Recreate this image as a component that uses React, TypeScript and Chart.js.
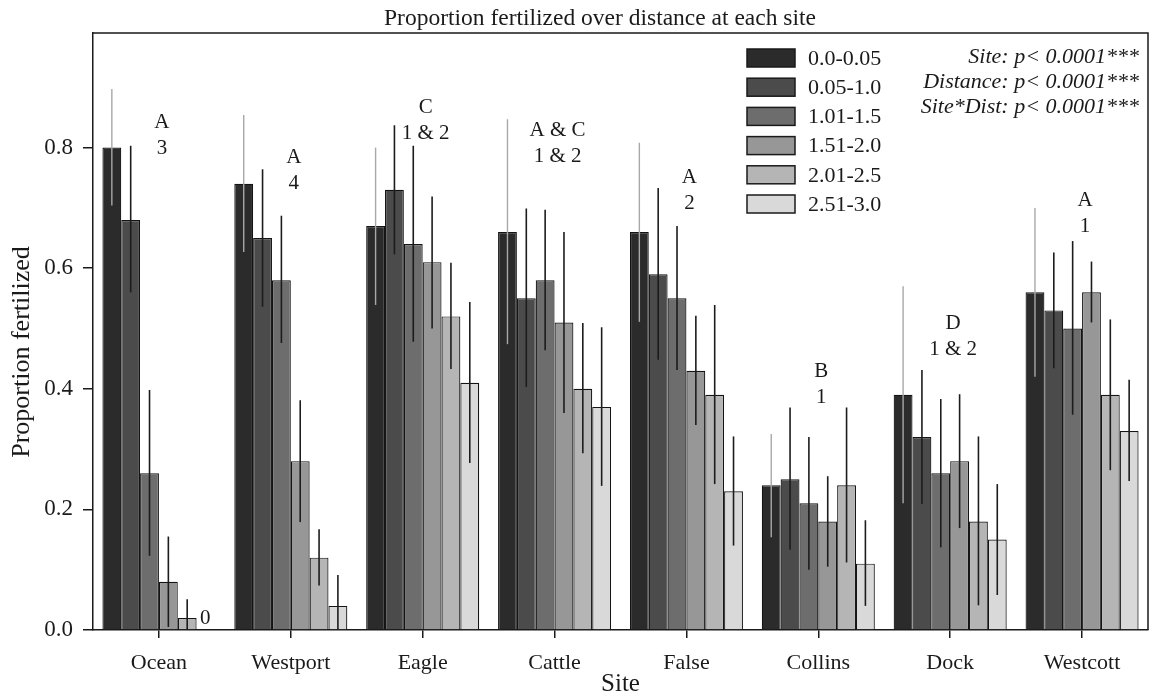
import React, { useEffect, useRef } from "react";
import { Chart, registerables } from "chart.js";

Chart.register(...registerables);

// ---- data ----
const sites = ["Ocean", "Westport", "Eagle", "Cattle", "False", "Collins", "Dock", "Westcott"];
const distances = ["0.0-0.05", "0.05-1.0", "1.01-1.5", "1.51-2.0", "2.01-2.5", "2.51-3.0"];

const dist1 = [0.80, 0.74, 0.67, 0.66, 0.66, 0.24, 0.39, 0.56];
const dist2 = [0.68, 0.65, 0.73, 0.55, 0.59, 0.25, 0.32, 0.53];
const dist3 = [0.26, 0.58, 0.64, 0.58, 0.55, 0.21, 0.26, 0.50];
const dist4 = [0.08, 0.28, 0.61, 0.51, 0.43, 0.18, 0.28, 0.56];
const dist5 = [0.02, 0.12, 0.52, 0.40, 0.39, 0.24, 0.18, 0.39];
const dist6 = [0.0, 0.04, 0.41, 0.37, 0.23, 0.11, 0.15, 0.33];

const hi1 = [0.897, 0.854, 0.80, 0.847, 0.808, 0.325, 0.57, 0.70];
const lo1 = [0.704, 0.627, 0.539, 0.474, 0.511, 0.154, 0.21, 0.42];
const hi2 = [0.803, 0.764, 0.837, 0.699, 0.733, 0.369, 0.431, 0.626];
const lo2 = [0.56, 0.536, 0.623, 0.403, 0.448, 0.133, 0.209, 0.434];
const hi3 = [0.398, 0.687, 0.803, 0.697, 0.67, 0.32, 0.383, 0.645];
const lo3 = [0.123, 0.476, 0.478, 0.464, 0.431, 0.10, 0.137, 0.357];
const hi4 = [0.155, 0.381, 0.719, 0.66, 0.521, 0.255, 0.391, 0.611];
const lo4 = [0.005, 0.179, 0.50, 0.36, 0.34, 0.105, 0.169, 0.51];
const hi5 = [0.051, 0.167, 0.609, 0.509, 0.539, 0.369, 0.321, 0.515];
const lo5 = [0.0, 0.074, 0.433, 0.293, 0.242, 0.112, 0.041, 0.265];
const hi6 = [null, 0.091, 0.544, 0.502, 0.321, 0.182, 0.242, 0.415];
const lo6 = [null, 0.0, 0.277, 0.239, 0.14, 0.04, 0.058, 0.247];

const groupLetters = ["A", "A", "C", "A & C", "A", "B", "D", "A"];
const groupNumbers = ["3", "4", "1 & 2", "1 & 2", "2", "1", "1 & 2", "1"];
const labelLevels = [0.842, 0.784, 0.866, 0.829, 0.75, 0.428, 0.509, 0.713];

const yTicks = [0.0, 0.2, 0.4, 0.6, 0.8];
const statLines = ["Site: p< 0.0001***", "Distance: p< 0.0001***", "Site*Dist: p< 0.0001***"];

const titleText = "Proportion fertilized over distance at each site";
const yTitle = "Proportion fertilized";
const xTitle = "Site";

// ---- styling ----
const seriesValues = [dist1, dist2, dist3, dist4, dist5, dist6];
const seriesHi = [hi1, hi2, hi3, hi4, hi5, hi6];
const seriesLo = [lo1, lo2, lo3, lo4, lo5, lo6];
const colors = ["#2b2b2b", "#4b4b4b", "#6d6d6d", "#979797", "#b5b5b5", "#d9d9d9"];
const INK = "#1a1a1a";
const SERIF = "'Liberation Serif', 'Times New Roman', serif";

const errorBarsPlugin = {
  id: "errorBars",
  afterDatasetsDraw(chart: any) {
    const { ctx } = chart;
    const y = chart.scales.y;
    ctx.save();
    seriesHi.forEach((his, i) => {
      const meta = chart.getDatasetMeta(i);
      meta.data.forEach((bar: any, j: number) => {
        const h = his[j];
        const l = seriesLo[i][j];
        if (h == null || l == null) return;
        ctx.strokeStyle = i === 0 ? "#a8a8a8" : "#1c1c1c";
        ctx.lineWidth = i === 0 ? 1.4 : 1.6;
        ctx.beginPath();
        ctx.moveTo(bar.x, y.getPixelForValue(h));
        ctx.lineTo(bar.x, y.getPixelForValue(l));
        ctx.stroke();
      });
    });
    ctx.restore();
  },
};

const textPlugin = {
  id: "texts",
  afterDraw(chart: any) {
    const { ctx, chartArea } = chart;
    const x = chart.scales.x;
    const y = chart.scales.y;
    ctx.save();
    // frame (top + right)
    ctx.strokeStyle = INK;
    ctx.lineWidth = 1.5;
    ctx.beginPath();
    ctx.moveTo(chartArea.left, chartArea.top);
    ctx.lineTo(chartArea.right, chartArea.top);
    ctx.lineTo(chartArea.right, chartArea.bottom);
    ctx.stroke();

    ctx.fillStyle = INK;
    // title
    ctx.font = `23.5px ${SERIF}`;
    ctx.textAlign = "center";
    ctx.textBaseline = "alphabetic";
    ctx.fillText(titleText, 600, 25);

    // x title
    ctx.font = `25px ${SERIF}`;
    ctx.textBaseline = "middle";
    ctx.fillText(xTitle, (chartArea.left + chartArea.right) / 2, 684);

    // y title
    ctx.save();
    ctx.translate(22, 352);
    ctx.rotate(-Math.PI / 2);
    ctx.font = `26px ${SERIF}`;
    ctx.textAlign = "center";
    ctx.textBaseline = "middle";
    ctx.fillText(yTitle, 0, 0);
    ctx.restore();

    // group annotations
    ctx.font = `21px ${SERIF}`;
    ctx.textAlign = "center";
    ctx.textBaseline = "middle";
    sites.forEach((s, j) => {
      const cx = x.getPixelForValue(j) + 3;
      const ly = y.getPixelForValue(labelLevels[j]);
      ctx.fillText(groupLetters[j], cx, ly);
      ctx.fillText(groupNumbers[j], cx, ly + 26);
    });

    // zero-value labels
    seriesValues.forEach((vals, i) => {
      const meta = chart.getDatasetMeta(i);
      vals.forEach((v, j) => {
        if (v === 0) {
          const bar: any = meta.data[j];
          ctx.textAlign = "left";
          ctx.fillText("0", bar.x - 6, y.getPixelForValue(0) - 12);
        }
      });
    });

    // legend
    ctx.font = `22px ${SERIF}`;
    ctx.textAlign = "left";
    ctx.textBaseline = "middle";
    distances.forEach((d, i) => {
      const top = 49 + i * 29.2;
      ctx.fillStyle = colors[i];
      ctx.fillRect(747, top, 48, 18);
      ctx.strokeStyle = INK;
      ctx.lineWidth = 1.5;
      ctx.strokeRect(747, top, 48, 18);
      ctx.fillStyle = INK;
      ctx.fillText(d, 808, top + 10);
    });

    // stats
    ctx.font = `italic 22px ${SERIF}`;
    ctx.textAlign = "right";
    statLines.forEach((t, i) => {
      ctx.fillText(t, 1139, 57 + i * 25);
    });
    ctx.restore();
  },
};

export default function App() {
  const ref = useRef<HTMLCanvasElement>(null);
  useEffect(() => {
    document.body.style.margin = "0";
    document.body.style.background = "#fff";
    const canvas = ref.current!;
    const chart = new Chart(canvas, {
      type: "bar",
      data: {
        labels: sites,
        datasets: distances.map((d, i) => ({
          label: d,
          data: seriesValues[i],
          backgroundColor: colors[i],
          borderColor: "#141414",
          borderWidth: 1.2,
          categoryPercentage: 0.857,
          barPercentage: 1.0,
        })),
      },
      options: {
        animation: false,
        responsive: false,
        devicePixelRatio: 1,
        layout: { padding: { top: 33, right: 1, left: 0, bottom: 0 } },
        plugins: {
          legend: { display: false },
          title: { display: false },
          tooltip: { enabled: false },
        },
        scales: {
          x: {
            type: "category",
            grid: {
              offset: false,
              drawOnChartArea: false,
              drawTicks: true,
              tickLength: 8,
              color: INK,
              lineWidth: 1.5,
            },
            border: { display: true, color: INK, width: 1.5 },
            ticks: {
              font: { family: SERIF, size: 22 },
              color: INK,
              padding: 12,
              maxRotation: 0,
            },
            afterFit: (s: any) => {
              s.height = 66;
            },
          },
          y: {
            type: "linear",
            min: 0,
            max: 0.99,
            grid: {
              drawOnChartArea: false,
              drawTicks: true,
              tickLength: 10,
              color: INK,
              lineWidth: 1.5,
            },
            border: { display: true, color: INK, width: 1.5 },
            ticks: {
              font: { family: SERIF, size: 23 },
              color: INK,
              padding: 10,
              callback: (v: any) => Number(v).toFixed(1),
            },
            afterBuildTicks: (s: any) => {
              s.ticks = yTicks.map((v) => ({ value: v }));
            },
            afterFit: (s: any) => {
              s.width = 93;
            },
          },
        },
      } as any,
      plugins: [errorBarsPlugin, textPlugin],
    });
    return () => chart.destroy();
  }, []);
  return (
    <div style={{ width: 1149, height: 696, background: "#fff" }}>
      <canvas ref={ref} width={1149} height={696} />
    </div>
  );
}
